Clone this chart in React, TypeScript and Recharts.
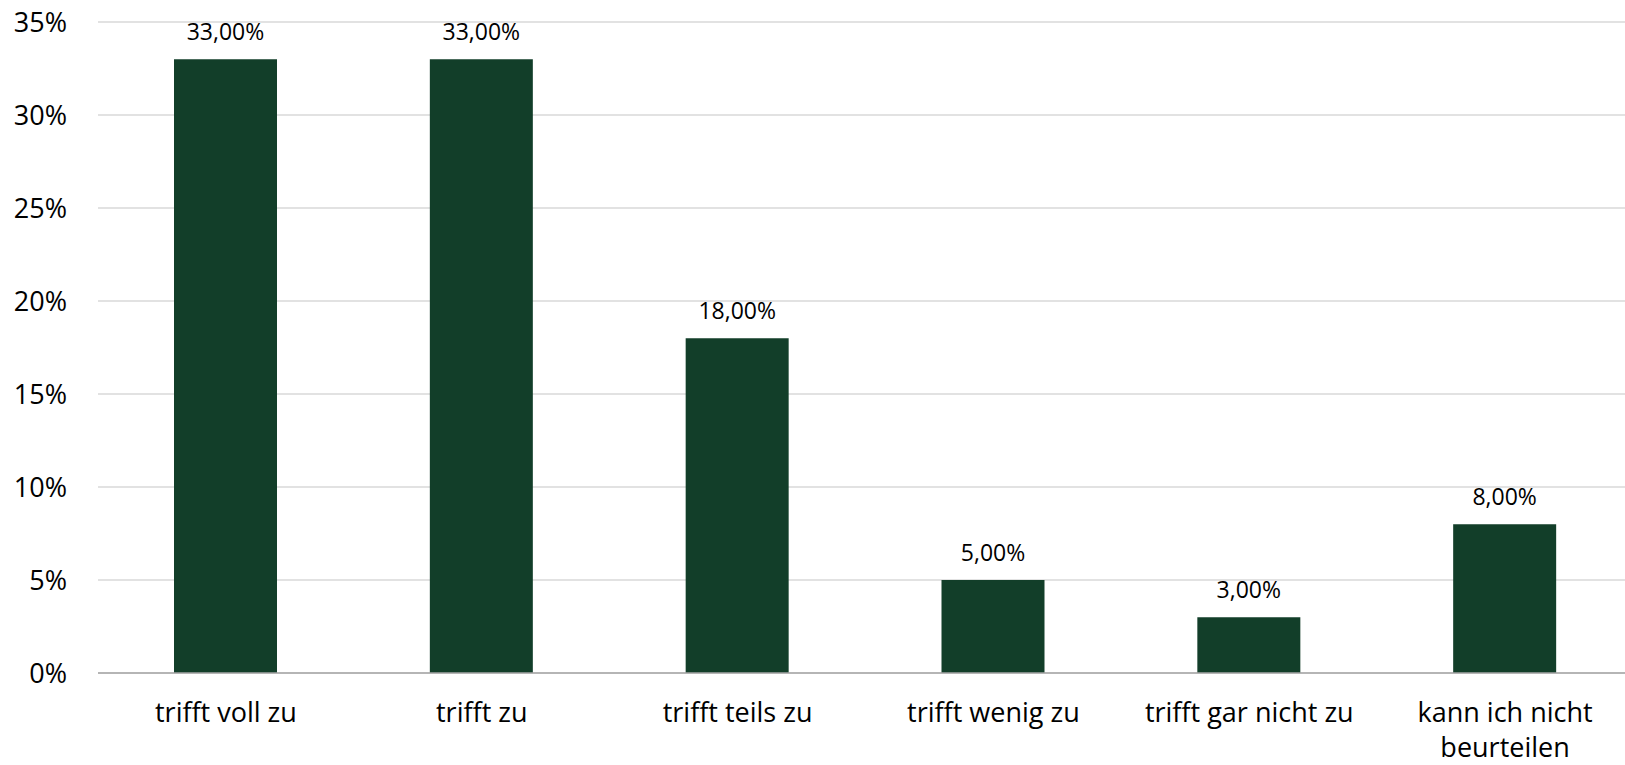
import { BarChart, Bar, XAxis, YAxis, CartesianGrid, LabelList } from 'recharts';

const categories = ['trifft voll zu', 'trifft zu', 'trifft teils zu', 'trifft wenig zu', 'trifft gar nicht zu', 'kann ich nicht\nbeurteilen'];
const shares = [33, 33, 18, 5, 3, 8];
const yTicks = [0, 5, 10, 15, 20, 25, 30, 35];

const data = categories.map((name, i) => ({ name, value: shares[i] }));

const FONT = '"Open Sans", sans-serif';
const BAR_COLOR = '#123E29';

function CategoryTick({ x, y, payload }: { x?: number; y?: number; payload?: { value: string } }) {
  const lines = String(payload?.value ?? '').split('\n');
  return (
    <text x={x} y={(y ?? 0) + 49} textAnchor="middle" fontSize={27} fontFamily={FONT} fill="#000">
      {lines.map((line, i) => (
        <tspan key={i} x={x} dy={i === 0 ? 0 : 35}>{line}</tspan>
      ))}
    </text>
  );
}

const pct = (v: unknown) => `${Number(v).toFixed(2).replace('.', ',')}%`;

export default function App() {
  return (
    <div style={{ position: 'absolute', left: 0, top: 0, width: 1625, height: 765, overflow: 'hidden', background: '#fff' }}>
      <BarChart width={1640} height={765} data={data} margin={{ top: 22, right: 7, bottom: 62, left: 0 }} barSize={103}>
        <CartesianGrid vertical={false} stroke="#d9d9d9" strokeWidth={1.5} />
        <XAxis
          dataKey="name"
          interval={0}
          tick={<CategoryTick />}
          tickLine={false}
          tickSize={0}
          tickMargin={0}
          axisLine={{ stroke: '#a6a6a6', strokeWidth: 1.5 }}
        />
        <YAxis
          width={98}
          domain={[0, 35]}
          ticks={yTicks}
          tickFormatter={(v) => `${v}%`}
          axisLine={false}
          tickLine={false}
          tickSize={0}
          tickMargin={31}
          tick={{ fontSize: 27, fontFamily: FONT, fill: '#000' }}
        />
        <Bar dataKey="value" fill={BAR_COLOR} isAnimationActive={false}>
          <LabelList dataKey="value" position="top" offset={19} formatter={pct} style={{ fontSize: 23, fontFamily: FONT, fill: '#000' }} />
        </Bar>
      </BarChart>
    </div>
  );
}
